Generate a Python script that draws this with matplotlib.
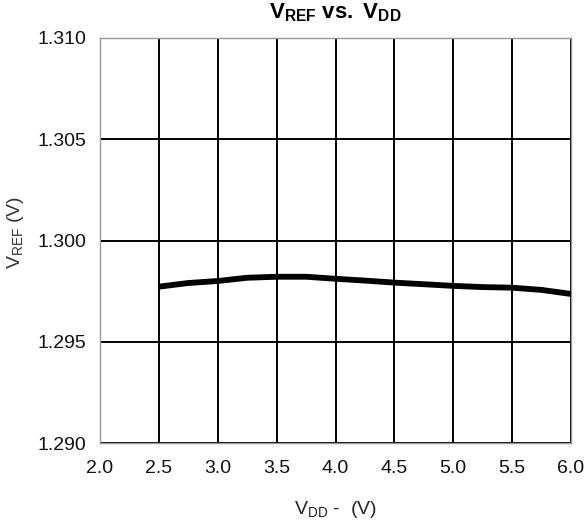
import matplotlib
matplotlib.use("Agg")
import matplotlib.pyplot as plt
import numpy as np

plt.rcParams["font.family"] = ["Liberation Sans", "DejaVu Sans"]
plt.rcParams["mathtext.fontset"] = "custom"
plt.rcParams["mathtext.rm"] = "Liberation Sans"
plt.rcParams["mathtext.it"] = "Liberation Sans"
plt.rcParams["mathtext.bf"] = "Liberation Sans:bold"

# supply voltage (V) and reference voltage (V)
vdd = [2.5, 2.75, 3.0, 3.25, 3.5, 3.75, 4.0, 4.25, 4.5, 4.75, 5.0, 5.25, 5.5, 5.75, 6.0]
vref = [1.29772, 1.29790, 1.29800, 1.29816, 1.29821, 1.29821, 1.29811, 1.29802,
        1.29792, 1.29784, 1.29776, 1.29770, 1.29767, 1.29756, 1.29736]

x_ticks = [2.0, 2.5, 3.0, 3.5, 4.0, 4.5, 5.0, 5.5, 6.0]
y_ticks = [1.290, 1.295, 1.300, 1.305, 1.310]

fig = plt.figure(figsize=(5.86, 5.28), dpi=100)
ax = fig.add_axes([100 / 586, 1 - 443 / 528, 471 / 586, 405 / 528])

ax.plot(vdd, vref, color="black", linewidth=4.2, solid_capstyle="butt", zorder=3)

ax.set_xlim(2.0, 6.0)
ax.set_ylim(1.290, 1.310)
ax.set_xticks(x_ticks)
ax.set_yticks(y_ticks)
ax.set_xticklabels(["%.1f" % t for t in x_ticks])
ax.set_yticklabels(["%.3f" % t for t in y_ticks])
ax.tick_params(length=0, labelsize=14, colors="#111111")
ax.tick_params(axis="x", pad=12)
ax.tick_params(axis="y", pad=10)
ax.grid(True, color="black", linewidth=1.4)
for s in ax.spines.values():
    s.set_color("#999999")
    s.set_linewidth(1.0)

ax.set_title(r"$\mathbf{V_{REF}}$ $\mathbf{vs.}$ $\mathbf{V_{DD}}$", fontsize=16, pad=14)
fig.text(335 / 586, 1 - 510 / 528, r"V$_{\mathrm{DD}}$ -  (V)", fontsize=14,
         ha="center", va="center", color="#222222")
fig.text(16 / 586, 1 - 232 / 528, r"V$_{\mathrm{REF}}$ (V)", fontsize=14,
         ha="center", va="center", rotation=90, color="#333333")

fig.savefig("out.png", dpi=100)
